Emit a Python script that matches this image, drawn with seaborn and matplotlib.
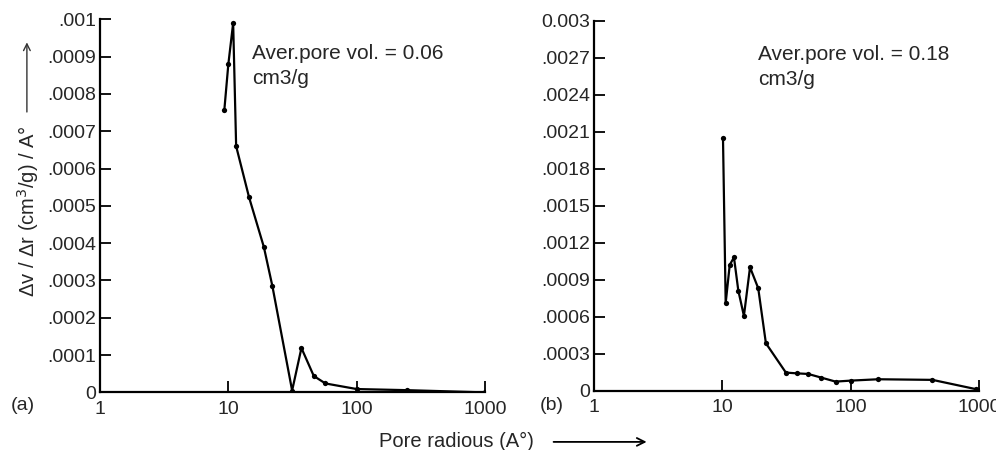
import numpy as np
import pandas as pd
import matplotlib
matplotlib.use("Agg")
import matplotlib.pyplot as plt
import seaborn as sns

# panel (a)
radius_a = [9.3, 10.0, 10.9, 11.5, 14.5, 18.9, 22.0, 31.4, 37.1, 46.3, 57, 100, 246, 1000]
dvdr_a = [0.000756, 0.00088, 0.00099, 0.00066, 0.000523, 0.00039, 0.000286,
          0.000005, 0.000119, 0.000044, 0.000024, 0.000009, 0.000006, 0.0]
# panel (b)
radius_b = [10.1, 10.6, 11.4, 12.3, 13.3, 14.7, 16.4, 19.0, 21.8, 31.2, 37.8, 46.5,
            59, 76, 100, 163, 432, 950, 1000]
dvdr_b = [0.00205, 0.00071, 0.00102, 0.00108, 0.00081, 0.000606, 0.001, 0.00083,
          0.000384, 0.000146, 0.00014, 0.000135, 0.000105, 0.000073, 0.000081,
          0.000092, 0.000087, 0.000011, 0.000005]

yticks_a = [0, 0.0001, 0.0002, 0.0003, 0.0004, 0.0005, 0.0006, 0.0007, 0.0008, 0.0009, 0.001]
ylabels_a = ["0", ".0001", ".0002", ".0003", ".0004", ".0005", ".0006", ".0007", ".0008", ".0009", ".001"]
yticks_b = [0, 0.0003, 0.0006, 0.0009, 0.0012, 0.0015, 0.0018, 0.0021, 0.0024, 0.0027, 0.003]
ylabels_b = ["0", ".0003", ".0006", ".0009", ".0012", ".0015", ".0018", ".0021", ".0024", ".0027", "0.003"]
xticks = [1, 10, 100, 1000]
xlabels = ["1", "10", "100", "1000"]

sns.set_style("ticks")
plt.rcParams["font.family"] = ["Liberation Sans", "DejaVu Sans"]
plt.rcParams["font.size"] = 14

fig = plt.figure(figsize=(9.96, 4.5), dpi=100)
ax_a = fig.add_axes([0.1004, 0.128, 0.3866, 0.829])
ax_b = fig.add_axes([0.5964, 0.132, 0.3868, 0.822])

panels = [
    (ax_a, radius_a, dvdr_a, yticks_a, ylabels_a, 0.001, "Aver.pore vol. = 0.06\ncm3/g", 0.395),
    (ax_b, radius_b, dvdr_b, yticks_b, ylabels_b, 0.003, "Aver.pore vol. = 0.18\ncm3/g", 0.426),
]

for ax, xs, ys, yt, yl, ymax, note, nx in panels:
    df = pd.DataFrame({"r": xs, "v": ys})
    sns.lineplot(data=df, x="r", y="v", ax=ax, color="black", lw=1.6,
                 marker="o", markersize=3.8, markeredgewidth=0, sort=False)
    ax.set_xscale("log")
    ax.set_xlim(1, 1000)
    ax.set_ylim(0, ymax)
    ax.set_xticks(xticks)
    ax.set_xticklabels(xlabels)
    ax.minorticks_off()
    ax.set_yticks(yt)
    ax.set_yticklabels(yl)
    ax.tick_params(direction="in", length=8, width=1.3, color="black", labelsize=14)
    ax.tick_params(axis="x", pad=6)
    ax.tick_params(axis="y", pad=3)
    ax.set_xlabel("")
    ax.set_ylabel("")
    sns.despine(ax=ax)
    for s in ["left", "bottom"]:
        ax.spines[s].set_linewidth(1.6)
        ax.spines[s].set_color("black")
    ax.text(nx, 0.935, note, transform=ax.transAxes, ha="left", va="top",
            fontsize=15, linespacing=1.4)

fig.text(0.028, 0.53, "Δv / Δr (cm$^3$/g) / A°", rotation=90, ha="center", va="center", fontsize=14.5)
fig.add_artist(matplotlib.patches.FancyArrowPatch(
    (0.027, 0.745), (0.027, 0.912), transform=fig.transFigure,
    arrowstyle="->", mutation_scale=12, lw=1.0, color="#333333"))

fig.text(0.458, 0.019, "Pore radious (A°)", ha="center", va="center", fontsize=14.5)
fig.add_artist(matplotlib.patches.FancyArrowPatch(
    (0.553, 0.018), (0.652, 0.018), transform=fig.transFigure,
    arrowstyle="->", mutation_scale=14, lw=1.3, color="black"))

fig.text(0.023, 0.1, "(a)", ha="center", va="center", fontsize=14)
fig.text(0.554, 0.1, "(b)", ha="center", va="center", fontsize=14)

fig.savefig("out.png", dpi=100)
